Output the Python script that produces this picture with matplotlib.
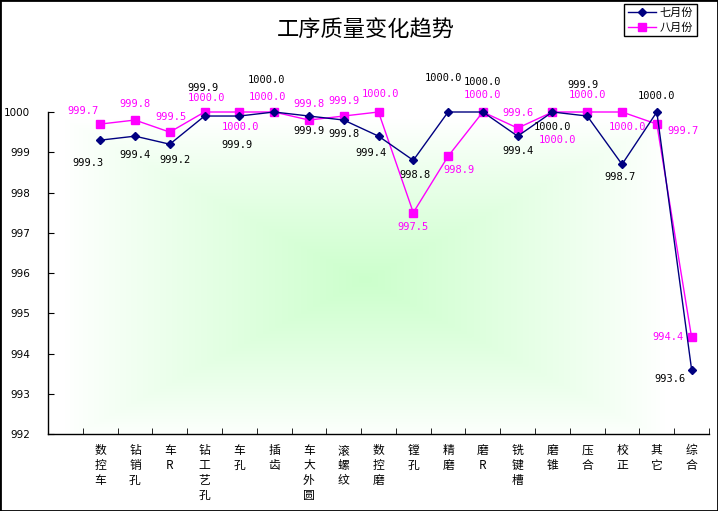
import numpy as np
import matplotlib
matplotlib.use("Agg")
import matplotlib.pyplot as plt
from matplotlib.patches import Rectangle

cjk = ["Noto Sans CJK SC", "DejaVu Sans"]
plt.rcParams["font.family"] = cjk

categories = ["数控车", "钻销孔", "车R", "钻工艺孔", "车孔", "插齿", "车大外圆", "滚螺纹", "数控磨",
              "镗孔", "精磨", "磨R", "铣键槽", "磨锥", "压合", "校正", "其它", "综合"]
july = [999.3, 999.4, 999.2, 999.9, 999.9, 1000.0, 999.9, 999.8, 999.4,
        998.8, 1000.0, 1000.0, 999.4, 1000.0, 999.9, 998.7, 1000.0, 993.6]
august = [999.7, 999.8, 999.5, 1000.0, 1000.0, 1000.0, 999.8, 999.9, 1000.0,
          997.5, 998.9, 1000.0, 999.6, 1000.0, 1000.0, 1000.0, 999.7, 994.4]
y_ticks = [992, 993, 994, 995, 996, 997, 998, 999, 1000]

# label offsets in pixels (dx, dy), screen up positive
july_off = [(-12, -23), (0, -19), (5, -16), (-2, 28), (-2, -29), (-8, 32), (0, -15), (0, -14), (-8, -17),
            (2, -15), (-5, 34), (0, 30), (0, -15), (0, -15), (-4, 31), (-2, -13), (0, 16), (-22, -9)]
aug_off = [(-17, 13), (0, 16), (1, 15), (2, 14), (1, -15), (-7, 15), (0, 16), (0, 15), (2, 18),
           (0, -14), (11, -14), (0, 17), (0, 15), (5, -28), (0, 17), (5, -15), (26, -7), (-24, 0)]

W, H = 718, 511
fig = plt.figure(figsize=(W / 100, H / 100), dpi=100)
fig.patch.set_facecolor("white")
ax = fig.add_axes([48 / W, 1 - 434 / H, (709 - 48) / W, (434 - 112) / H])
ax.set_facecolor("white")

x = np.arange(1, len(categories) + 1)
ax.set_xlim(-0.5, len(categories) + 0.5)
ax.set_ylim(992, 1000)

# rectangular "from center" gradient of the plot area
gx = np.linspace(0, 661, 400)
gy = np.linspace(0, 322, 200)
GX, GY = np.meshgrid(gx, gy)
cx, cy = 365 - 48, 280 - 112
t = np.maximum(np.abs(GX - cx) / 300.0, np.abs(GY - cy) / 160.0)
t = np.clip(t, 0, 1)
w = (1 - t) ** 0.9
green = np.array([204, 255, 204]) / 255.0
img = w[..., None] * green + (1 - w[..., None]) * np.ones(3)
ax.imshow(img, extent=(-0.5, len(categories) + 0.5, 992, 1000), origin="upper",
          aspect="auto", zorder=0, interpolation="bilinear")

ax.plot(x, july, color="#000080", lw=1, marker="D", ms=4, label="七月份", zorder=3, clip_on=False)
ax.plot(x, august, color="#FF00FF", lw=1, marker="s", ms=5.5, label="八月份", zorder=2, clip_on=False)

for xi, v, (dx, dy) in zip(x, july, july_off):
    ax.annotate(f"{v:.1f}", (xi, v), xytext=(dx, dy), textcoords="offset pixels",
                ha="center", va="center", fontsize=7.5, family="DejaVu Sans Mono",
                color="black", annotation_clip=False, zorder=5)
for xi, v, (dx, dy) in zip(x, august, aug_off):
    ax.annotate(f"{v:.1f}", (xi, v), xytext=(dx, dy), textcoords="offset pixels",
                ha="center", va="center", fontsize=7.5, family="DejaVu Sans Mono",
                color="#FF00FF", annotation_clip=False, zorder=5)

for s in ["top", "right"]:
    ax.spines[s].set_visible(False)
for s in ["left", "bottom"]:
    ax.spines[s].set_color("black")
    ax.spines[s].set_linewidth(1)

ax.set_yticks(y_ticks)
ax.set_yticklabels([str(v) for v in y_ticks], family="DejaVu Sans", fontsize=7.5)
ax.tick_params(axis="y", direction="in", length=4, pad=13, color="black")

ax.set_xticks(x)
ax.set_xticklabels(["\n".join(c) for c in categories], fontsize=8.5, linespacing=1.2)
ax.set_xticks(np.arange(0.5, len(categories) + 1, 1), minor=True)
ax.tick_params(axis="x", which="major", length=0, pad=7)
ax.tick_params(axis="x", which="minor", direction="in", length=4, color="black")

fig.text(366 / W, 1 - 30 / H, "工序质量变化趋势", ha="center", va="center", fontsize=16)

leg = fig.legend(loc="upper right", bbox_to_anchor=(697 / W, 1 - 4 / H), fontsize=8,
                 handlelength=2.6, handletextpad=0.3, borderpad=0.35, labelspacing=0.35,
                 borderaxespad=0, fancybox=False, framealpha=1, edgecolor="black")
leg.get_frame().set_linewidth(1)

fig.patches.append(Rectangle((0, 0), 1, 1, transform=fig.transFigure, fill=False,
                             edgecolor="black", lw=2))

fig.savefig("out.png", dpi=100)
